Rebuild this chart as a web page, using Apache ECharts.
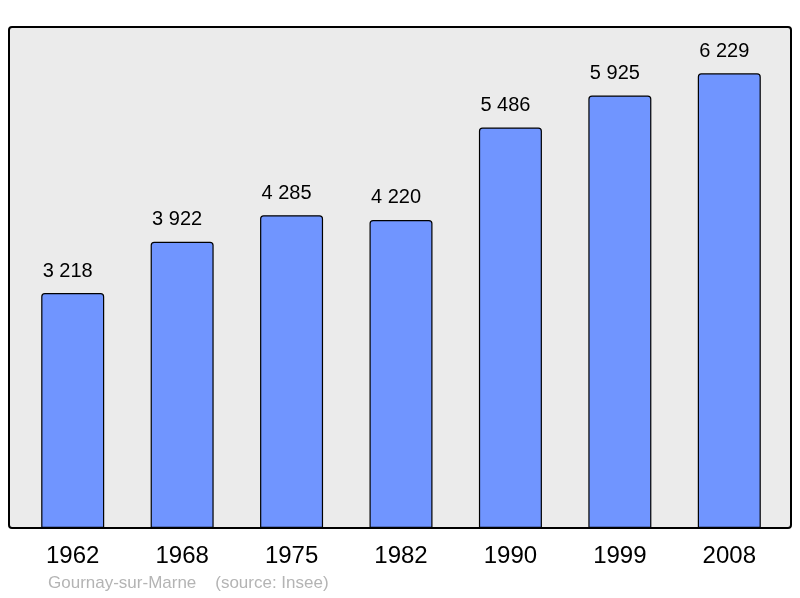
<!DOCTYPE html>
<html><head><meta charset="utf-8">
<script src="https://cdn.jsdelivr.net/npm/echarts@6/dist/echarts.min.js"></script>
<style>html,body{margin:0;padding:0;background:#fff}#c{width:800px;height:598px}</style>
</head><body><div id="c"></div>
<script>
var years = ['1962','1968','1975','1982','1990','1999','2008'];
var population = [3218, 3922, 4285, 4220, 5486, 5925, 6229];
var footer = 'Gournay-sur-Marne    (source: Insee)';

var chart = echarts.init(document.getElementById('c'), null, {renderer:'canvas'});
var fmt = function(v){ return String(v).replace(/\B(?=(\d{3})+(?!\d))/g, ' '); };
chart.setOption({
  animation: false,
  backgroundColor: '#ffffff',
  grid: {left: 18, right: 16, top: 17, bottom: 70, containLabel: false},
  graphic: [
    {type:'rect', z:-10, shape:{x:9, y:27, width:782, height:501, r:3},
     style:{fill:'#ebebeb', stroke:'#000', lineWidth:2}},
    {type:'text', left:48, top:575, style:{text: footer, fill:'#b4b4b4', font:'17px "Liberation Sans", Arial, sans-serif'}}
  ],
  xAxis: {
    type:'category', data: years,
    axisLine:{show:false}, axisTick:{show:false},
    axisLabel:{margin:16, fontSize:24, color:'#000', fontFamily:'"Liberation Sans", Arial, sans-serif'}
  },
  yAxis: {type:'value', min:0, max:7000, show:false, splitLine:{show:false}},
  series: [{
    type:'bar', data: population, barWidth: 63,
    itemStyle:{color:'#7095ff', borderColor:'#000', borderWidth:1.2, borderRadius:[3,3,0,0]},
    label:{show:true, position:'top', distance:12, offset:[-5,0], fontSize:20, color:'#000',
      fontFamily:'"Liberation Sans", Arial, sans-serif',
      formatter:function(p){return fmt(p.value);}}
  }]
});
</script></body></html>
